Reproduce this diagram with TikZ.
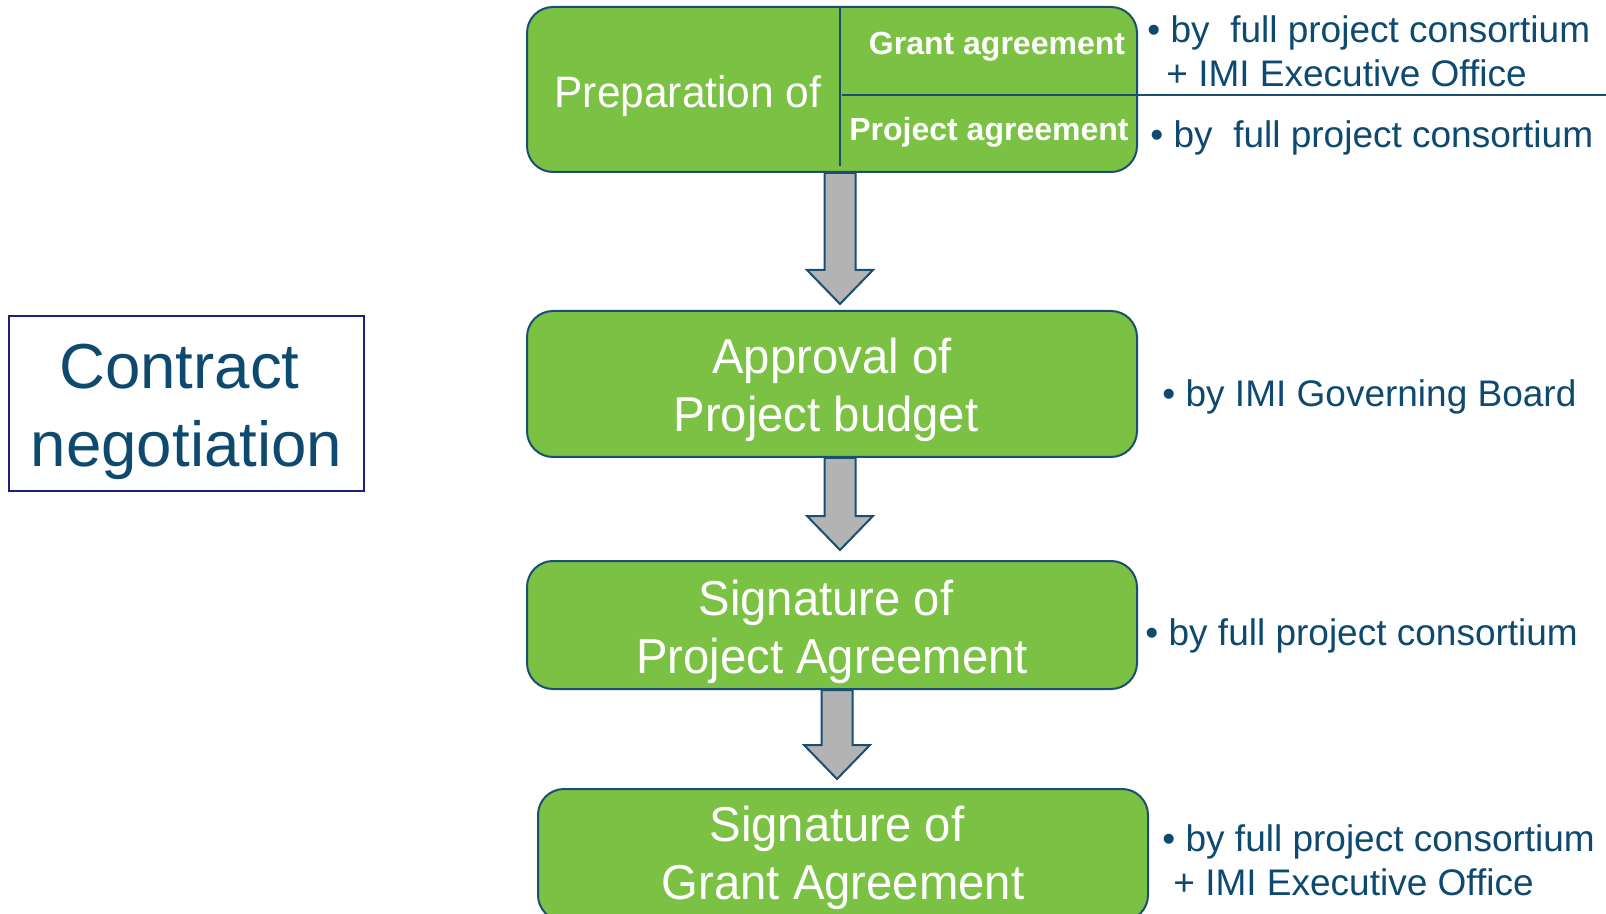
\documentclass[tikz,border=0pt]{standalone}
\usepackage{fontspec}
\setmainfont{Liberation Sans}
\newfontfamily\boxfont[FakeStretch=0.965]{Liberation Sans}
\usetikzlibrary{calc}
\definecolor{gfill}{HTML}{7BC143}
\definecolor{gline}{HTML}{1B4F72}
\definecolor{tblue}{HTML}{0E4A70}
\definecolor{navy}{HTML}{20207A}
\definecolor{agray}{HTML}{B3B3B3}
\tikzset{
  gbox/.style={draw=gline, line width=1pt, fill=gfill, rounded corners=13pt,
    inner sep=0pt},
  btxt/.style={text=white, inner sep=0pt, align=center,
    font=\boxfont\fontsize{24.5}{29}\selectfont},
  subtxt/.style={text=white, inner sep=0pt, anchor=base,
    font=\bfseries\fontsize{16}{19}\selectfont},
  note/.style={text=tblue, inner sep=0pt, anchor=base west,
    font=\fontsize{18.5}{22}\selectfont},
  blockarr/.style={draw=gline, line width=1pt, fill=agray, line join=miter},
  divline/.style={draw=gline, line width=1pt}
}
\newcommand{\blockarrow}[2]{%
  \draw[blockarr] ($(#1)+(-15.5,0)$) -- ($(#2)+(-15.5,-34)$) -- ($(#2)+(-33,-34)$)
    -- (#2) -- ($(#2)+(33,-34)$) -- ($(#2)+(15.5,-34)$) -- ($(#1)+(15.5,0)$) -- cycle;}
\begin{document}
\begin{tikzpicture}[x=0.5pt,y=-0.5pt]
\useasboundingbox (0,0) rectangle (1606,914);

% contract negotiation
\node[draw=navy, line width=1pt, minimum width=177.5pt, minimum height=87.5pt,
  inner sep=0pt] (cn) at (186.5,403.5) {};
\node[text=tblue, inner sep=0pt, align=center,
  font=\fontsize{31.8}{39}\selectfont] (cntxt) at ($(cn.center)+(0,8)$)
  {Contract\kern7pt\\negotiation};

% top box
\node[gbox, minimum width=305pt, minimum height=82.5pt] (prep) at (832,89.5) {};
\draw[divline] (840,8) -- (840,166);
\draw[divline] (842,95) -- (1606,95);
\node[text=white, inner sep=0pt, anchor=base, font=\boxfont\fontsize{22}{26}\selectfont]
  (preptxt) at (688,108) {Preparation of};
\node[subtxt] (ga) at (997,55) {Grant agreement};
\node[subtxt] (pa) at (989,141) {Project agreement};
\node[note] (n1a) at (1147,43) {• by\ \ full project consortium};
\node[note] (n1b) at (1166,87) {+ IMI Executive Office};
\node[note] (n2) at (1150,148) {• by\ \ full project consortium};

% box 2
\node[gbox, minimum width=305pt, minimum height=73pt] (budget) at (832,384) {};
\node[btxt] (budgettxt) at ($(budget.center)+(0,6)$) {Approval of\\Project budget\kern6pt};
\node[note] (n3) at (1162,407) {• by IMI Governing Board};

% box 3
\node[gbox, minimum width=305pt, minimum height=64pt] (spa) at (832,625) {};
\node[btxt] (spatxt) at ($(spa.center)+(0,7)$) {Signature of\kern6pt\\Project Agreement};
\node[note] (n4) at (1145,645) {• by full project consortium};

% box 4
\node[gbox, minimum width=305pt, minimum height=66pt] (sga) at (843,855) {};
\node[btxt] (sgatxt) at ($(sga.center)+(0,3)$) {Signature of\kern6pt\\Grant Agreement};
\node[note] (n5a) at (1162,851) {• by full project consortium};
\node[note] (n5b) at (1173,895) {+ IMI Executive Office};

% arrows
\coordinate (a1s) at ($(prep.south)+(8,0)$);
\coordinate (a1e) at ($(budget.north)+(8,-6)$);
\coordinate (a2s) at ($(budget.south)+(8,0)$);
\coordinate (a2e) at ($(spa.north)+(8,-10)$);
\coordinate (a3s) at ($(spa.south)+(5,0)$);
\coordinate (a3e) at ($(sga.north)+(-6,-9)$);
\blockarrow{a1s}{a1e}
\blockarrow{a2s}{a2e}
\blockarrow{a3s}{a3e}
\end{tikzpicture}
\end{document}
